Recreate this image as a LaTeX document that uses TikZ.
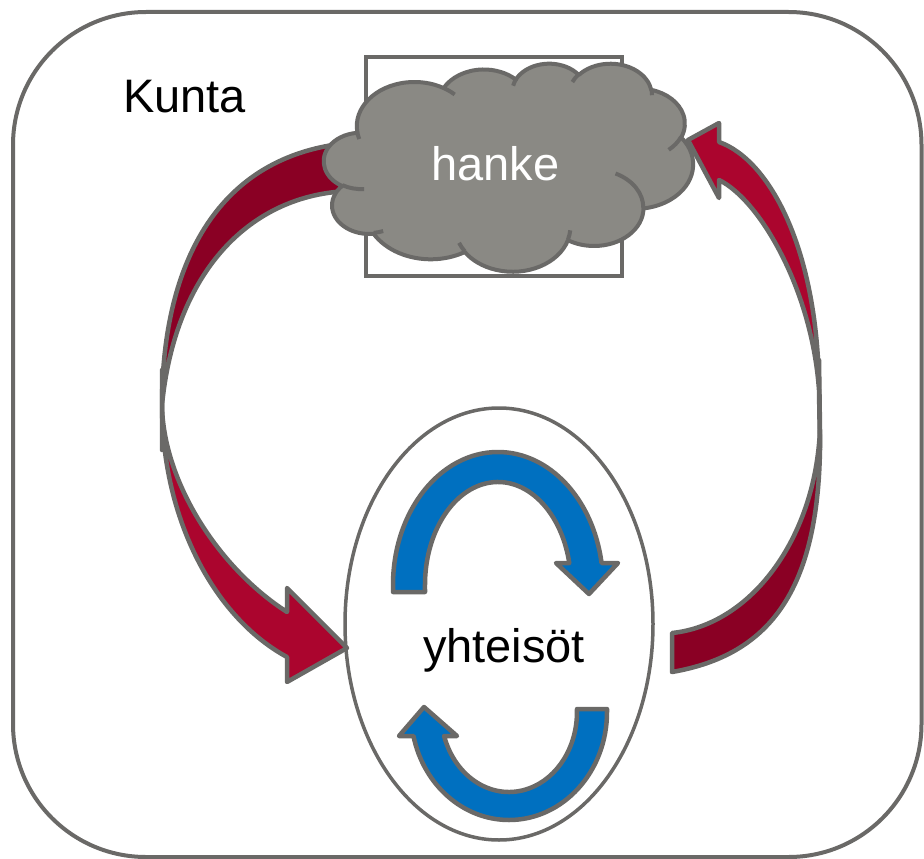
\documentclass[tikz,border=0pt]{standalone}
\usepackage{fontspec}
\setmainfont{Liberation Sans}
\definecolor{lgray}{RGB}{106,105,103}
\definecolor{cloudfill}{RGB}{138,137,132}
\definecolor{reddark}{RGB}{138,0,36}
\definecolor{redbright}{RGB}{171,5,46}
\definecolor{blueA}{RGB}{0,112,192}
\newcommand\ooxarc[5]{%
  \pgfmathsetmacro\ooxS{atan2((#2)*sin(#4),(#3)*cos(#4))}%
  \pgfmathsetmacro\ooxE{atan2((#2)*sin((#4)+(#5)),(#3)*cos((#4)+(#5)))}%
  \pgfmathsetmacro\ooxD{mod((\ooxE)-(\ooxS)+720,360)}%
  \expandafter\xdef\csname oox#1s\endcsname{\ooxS}%
  \expandafter\xdef\csname oox#1d\endcsname{\ooxD}%
}
\tikzset{
  frame/.style={draw=lgray, line width=4pt, rounded corners=133pt},
  oval/.style={draw=lgray, line width=3.5pt},
  redback/.style={fill=reddark, draw=lgray, line width=4.5pt, line join=round},
  redfront/.style={fill=redbright, draw=lgray, line width=4.5pt, line join=round},
  bluearrow/.style={fill=blueA, draw=lgray, line width=4.5pt, line join=round},
  cloudrect/.style={draw=lgray, line width=3.5pt},
  cloudshape/.style={fill=cloudfill, draw=lgray, line width=4pt, line join=round},
  cloudmark/.style={draw=lgray, line width=4pt},
  bigtext/.style={inner sep=0pt, font=\fontsize{47}{47}\selectfont}
}
\begin{document}
\begin{tikzpicture}[x=1pt, y=-1pt]
\useasboundingbox (0,0) rectangle (924,859);
% cloud arc parameters (DrawingML cloud, units of 100)
\ooxarc{A}{67.53}{91.90}{-190.48748}{123.78053}
\ooxarc{B}{53.33}{72.67}{-144.10238}{89.94523}
\ooxarc{C}{43.65}{59.45}{-145.80792}{99.72302}
\ooxarc{D}{48.57}{65.95}{-130.98607}{117.24173}
\ooxarc{E}{53.33}{72.73}{-78.70888}{109.02692}
\ooxarc{F}{67.75}{92.20}{-46.26725}{130.269}
\ooxarc{G}{57.85}{78.67}{0.62502}{114.03333}
\ooxarc{H}{67.52}{92.15}{22.4516}{115.17255}
\ooxarc{I}{77.20}{105.43}{66.24263}{75.71102}
\ooxarc{J}{43.60}{59.18}{-274.94208}{146.73557}
\ooxarc{K}{43.45}{59.45}{-246.8285}{152.51885}
\ooxarc{a}{43.45}{59.45}{86.742}{26.4295}
\ooxarc{b}{43.60}{59.18}{73.61047}{11.44747}
\ooxarc{c}{67.52}{92.15}{137.62415}{14.0811}
\ooxarc{d}{67.52}{92.15}{6.45327}{15.99835}
\ooxarc{e}{57.85}{78.67}{-70.29235}{70.77488}
\ooxarc{f}{53.33}{72.73}{30.31803}{27.7515}
\ooxarc{g}{48.57}{65.95}{-13.74433}{14.8589}
\ooxarc{h}{48.57}{65.95}{-149.18145}{18.19537}
\ooxarc{i}{43.65}{59.45}{-163.49427}{17.68635}
\ooxarc{j}{67.53}{91.90}{-66.70695}{12.31935}
\ooxarc{k}{67.53}{91.90}{157.65435}{11.85817}

% outer frame
\draw[frame] (13,12) rectangle (921.5,857);

% community ellipse
\draw[oval] (499,624) ellipse [x radius=154, y radius=216];

% red arrows: back pieces
\draw[redback] (350,141) -- (350,191) .. controls (250,194) and (175,272) .. (162,405)
  -- (162,450) -- (162,405) .. controls (162,290) and (200,170) .. (327,146) -- cycle;
\draw[redback] (672,633) -- (672,672) .. controls (770,655) and (822,590) .. (820,430)
  -- (819,360) -- (820,430) .. controls (815,540) and (750,625) .. (672,633) -- cycle;
% red arrows: front pieces
\draw[redfront] (162,405) -- (162,370) -- (162,405) .. controls (162,520) and (215,618) .. (287,657)
  -- (287,682) -- (347,648) -- (287,588) -- (287,612)
  .. controls (217,567) and (163,480) .. (162,405) -- cycle;
\draw[redfront] (688,140) -- (719,123) -- (719,142) .. controls (770,160) and (818,250) .. (819,390)
  -- (820,450) -- (819,390) .. controls (812,290) and (760,200) .. (719,180) -- (719,198) -- cycle;

% blue arrows
\draw[bluearrow] (393,592) -- (393,585) arc[start angle=180, end angle=350.48, x radius=105, y radius=133]
  -- (618,563) -- (589,594) -- (556,563) -- (569.3,563)
  arc[start angle=347.67, end angle=180, x radius=73, y radius=103] -- (425,592) -- cycle;
\draw[bluearrow] (607,709) -- (607,712) arc[start angle=0, end angle=167.16, x radius=98, y radius=108]
  -- (399,736) -- (424,707) -- (457,736) -- (444.1,736)
  arc[start angle=162.54, end angle=0, x radius=68, y radius=80] -- (577,709) -- cycle;

% rectangle behind the cloud
\draw[cloudrect] (366,57) rectangle (622,276);

% cloud
\begin{scope}[shift={(324,63)}, x=0.85417pt, y=-0.48148pt]
\filldraw[cloudshape] (39.00,143.70)
  arc[x radius=67.53, y radius=91.90, start angle=\ooxAs, delta angle=\ooxAd]
  arc[x radius=53.33, y radius=72.67, start angle=\ooxBs, delta angle=\ooxBd]
  arc[x radius=43.65, y radius=59.45, start angle=\ooxCs, delta angle=\ooxCd]
  arc[x radius=48.57, y radius=65.95, start angle=\ooxDs, delta angle=\ooxDd]
  arc[x radius=53.33, y radius=72.73, start angle=\ooxEs, delta angle=\ooxEd]
  arc[x radius=67.75, y radius=92.20, start angle=\ooxFs, delta angle=\ooxFd]
  arc[x radius=57.85, y radius=78.67, start angle=\ooxGs, delta angle=\ooxGd]
  arc[x radius=67.52, y radius=92.15, start angle=\ooxHs, delta angle=\ooxHd]
  arc[x radius=77.20, y radius=105.43, start angle=\ooxIs, delta angle=\ooxId]
  arc[x radius=43.60, y radius=59.18, start angle=\ooxJs, delta angle=\ooxJd]
  arc[x radius=43.45, y radius=59.45, start angle=\ooxKs, delta angle=\ooxKd]
  -- cycle;
\draw[cloudmark]
  (46.93,261.77) arc[x radius=43.45, y radius=59.45, start angle=\ooxas, delta angle=\ooxad]
  (69.28,348.99) arc[x radius=43.60, y radius=59.18, start angle=\ooxbs, delta angle=\ooxbd]
  (164.78,390.90) arc[x radius=67.52, y radius=92.15, start angle=\ooxcs, delta angle=\ooxcd]
  (288.27,347.51) arc[x radius=67.52, y radius=92.15, start angle=\ooxds, delta angle=\ooxdd]
  (341.29,229.54) arc[x radius=57.85, y radius=78.67, start angle=\ooxes, delta angle=\ooxed]
  (417.98,153.54) arc[x radius=53.33, y radius=72.73, start angle=\ooxfs, delta angle=\ooxfd]
  (383.24,54.26) arc[x radius=48.57, y radius=65.95, start angle=\ooxgs, delta angle=\ooxgd]
  (290.78,39.52) arc[x radius=48.57, y radius=65.95, start angle=\ooxhs, delta angle=\ooxhd]
  (221.41,47.20) arc[x radius=43.65, y radius=59.45, start angle=\ooxis, delta angle=\ooxid]
  (140.00,51.92) arc[x radius=67.53, y radius=91.90, start angle=\ooxjs, delta angle=\ooxjd]
  (41.27,157.89) arc[x radius=67.53, y radius=91.90, start angle=\ooxks, delta angle=\ooxkd];
\end{scope}

% texts
\node[bigtext, anchor=base west] (kunta) at (123,112) {Kunta};
\node[bigtext, anchor=base, text=white] (hanke) at (495.5,180) {hanke};
\node[bigtext, anchor=base] (yhteisot) at (504,662) {yhteisöt};
\end{tikzpicture}
\end{document}
